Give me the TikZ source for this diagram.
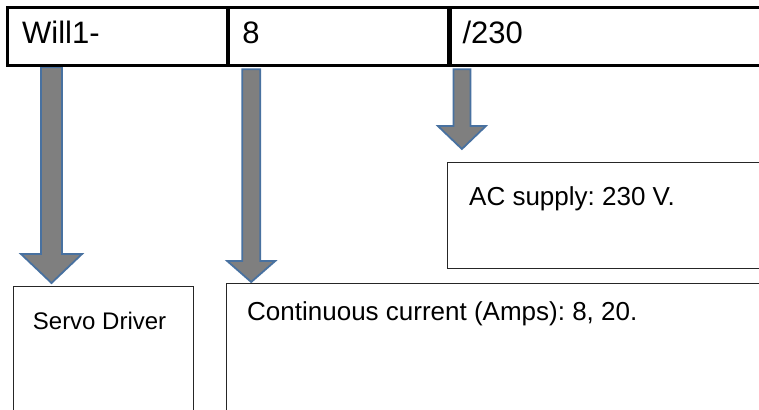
\documentclass[tikz,border=0pt]{standalone}
\usepackage{fontspec}
\setmainfont{Liberation Sans}
\usepackage{tikz}
\usetikzlibrary{calc,positioning}
\frenchspacing
\definecolor{arrowfill}{RGB}{127,127,127}
\definecolor{arrowedge}{RGB}{72,113,160}
\tikzstyle{cell} = [draw=black, line width=2.2pt, rectangle, anchor=north west, inner sep=0pt]
\tikzstyle{infobox} = [draw=black!85, line width=1pt, rectangle, anchor=north west, inner sep=0pt]
\tikzstyle{celltext} = [anchor=base west, inner sep=0pt, font=\fontsize{31}{37}\selectfont]
\tikzstyle{boxtext} = [anchor=base west, inner sep=0pt, font=\fontsize{26}{31}\selectfont]
\tikzstyle{blockarrow} = [fill=arrowfill, draw=arrowedge, line width=1.8pt, line join=miter]
% #1 start, #2 tip, #3 half shaft, #4 half head, #5 head length
\newcommand{\downblock}[5]{%
  \filldraw[blockarrow] ($(#1)+(-#3,0)$) -- ($(#2)+(-#3,-#5)$)
    -- ($(#2)+(-#4,-#5)$) -- (#2) -- ($(#2)+(#4,-#5)$)
    -- ($(#2)+(#3,-#5)$) -- ($(#1)+(#3,0)$) -- cycle;}

\begin{document}
\begin{tikzpicture}[x=1pt, y=-1pt]
    \useasboundingbox (0,0) rectangle (759,409);
    \clip (0,0) rectangle (759,409);
    \fill[white] (0,0) rectangle (759,409);% page
    % the boxes below
    \node[infobox, minimum width=180.3, minimum height=160] (driver) at (12.7,286) {};
    \node[infobox, minimum width=600, minimum height=160] (currentbox) at (226,283) {};
    \node[infobox, minimum width=400, minimum height=106] (supply) at (447,162) {};
    \node[boxtext, font=\fontsize{24}{29}\selectfont] (drivertxt)
        at ($(driver.north west)+(20,43)$) {Servo Driver};
    \node[boxtext] (currenttxt) at ($(currentbox.north west)+(21,37)$)
        {Continuous current (Amps): 8, 20.};
    \node[boxtext] (supplytxt) at ($(supply.north west)+(22,43)$) {AC supply: 230 V.};
    % the code line
    \node[cell, minimum width=219, minimum height=57] (model) at (7,7) {};
    \node[cell, minimum width=219, minimum height=57] (current) at (model.north east) {};
    \node[cell, minimum width=400, minimum height=57] (voltage) at (current.north east) {};
    % arrows
    \coordinate (a1) at ($(model.south west)+(44.5,1)$);
    \coordinate (a1tip) at ($(a1 |- driver.north)+(0,-3)$);
    \coordinate (a2) at ($(current.south west)+(23,3)$);
    \coordinate (a2tip) at ($(a2 |- currentbox.north)+(0,-1)$);
    \coordinate (a3) at ($(voltage.south west)+(12.5,3)$);
    \coordinate (a3tip) at ($(a3 |- supply.north)+(0,-13)$);
    \downblock{a1}{a1tip}{10.5}{30.5}{29}% to the driver
    \downblock{a2}{a2tip}{9}{24}{21}% to the current
    \downblock{a3}{a3tip}{8.5}{24}{23}% to the supply
    % redraw the code line on top
    \draw[line width=2.2pt] (model.north west) rectangle (voltage.south east);
    \draw[line width=2.2pt] (current.north west) -- (current.south west);
    \draw[line width=2.2pt] (voltage.north west) -- (voltage.south west);
    \node[celltext] (modeltxt) at ($(model.north west)+(15,37)$) {Will1-};
    \node[celltext] (currentval) at ($(current.north west)+(14,37)$) {8};
    \node[celltext] (voltageval) at ($(voltage.north west)+(13,37)$) {/230};
\end{tikzpicture}
\end{document}
